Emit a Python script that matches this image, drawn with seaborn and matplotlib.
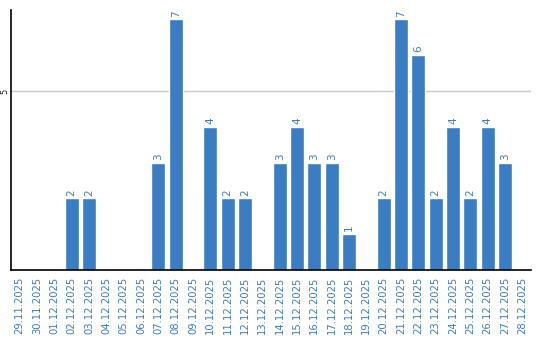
import matplotlib
matplotlib.use("Agg")
import matplotlib.pyplot as plt
import seaborn as sns
import pandas as pd

dates = ["29.11.2025", "30.11.2025", "01.12.2025", "02.12.2025", "03.12.2025",
         "04.12.2025", "05.12.2025", "06.12.2025", "07.12.2025", "08.12.2025",
         "09.12.2025", "10.12.2025", "11.12.2025", "12.12.2025", "13.12.2025",
         "14.12.2025", "15.12.2025", "16.12.2025", "17.12.2025", "18.12.2025",
         "19.12.2025", "20.12.2025", "21.12.2025", "22.12.2025", "23.12.2025",
         "24.12.2025", "25.12.2025", "26.12.2025", "27.12.2025", "28.12.2025"]
values = [0, 0, 0, 2, 2, 0, 0, 0, 3, 7,
          0, 4, 2, 2, 0, 3, 4, 3, 3, 1,
          0, 2, 7, 6, 2, 4, 2, 4, 3, 0]

BLUE = "#3b7dc2"

sns.set_theme(style="white")
plt.rcParams['font.family'] = ['DejaVu Sans']

df = pd.DataFrame({"date": dates, "value": values})

fig = plt.figure(figsize=(5.4, 3.4), dpi=100)
ax = fig.add_axes([11/540, 1-270/340, 520/540, 260/340])

sns.barplot(data=df, x="date", y="value", color=BLUE, saturation=1,
            width=0.8, ax=ax, order=dates)

ax.set_ylim(0, 7.26)
ax.set_xlim(-0.5, len(dates)-0.5)
ax.set_yticks([5])
ax.set_yticklabels(["5"], rotation=90, va="center", fontsize=6, color="#222222")
ax.yaxis.grid(True, color="#c8c8c8", linewidth=1)
ax.set_axisbelow(True)
ax.tick_params(axis="y", length=0, pad=1)
ax.tick_params(axis="x", length=0, pad=5)
ax.set_xticks(range(len(dates)))
ax.set_xticklabels(dates, rotation=90, fontsize=7.2, color=BLUE)
ax.set_xlabel("")
ax.set_ylabel("")

for s in ["top", "right"]:
    ax.spines[s].set_visible(False)
for s in ["left", "bottom"]:
    ax.spines[s].set_visible(True)
    ax.spines[s].set_color("black")
    ax.spines[s].set_linewidth(1.2)

cont = ax.containers[0]
labels = [str(v) if v > 0 else "" for v in values]
ax.bar_label(cont, labels=labels, rotation=90, padding=2, fontsize=7.5, color=BLUE)

fig.savefig("out.png", dpi=100)
